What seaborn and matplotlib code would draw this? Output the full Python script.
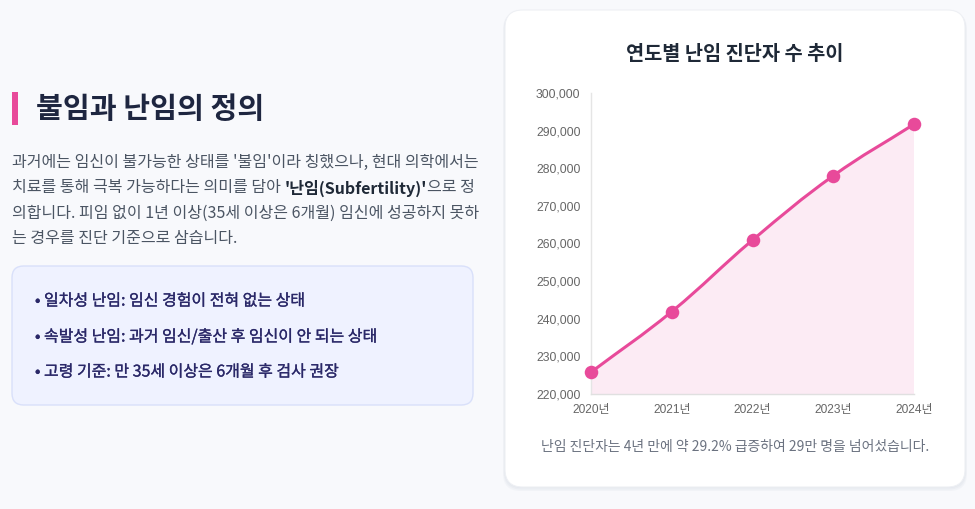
import numpy as np
import pandas as pd
import seaborn as sns
import matplotlib.pyplot as plt
import matplotlib.patheffects as pe
from matplotlib.patches import FancyBboxPatch, PathPatch, Rectangle
from matplotlib.path import Path

years = ['2020년', '2021년', '2022년', '2023년', '2024년']
patients = [225800, 241900, 260900, 278000, 291700]
y_ticks = [220000, 230000, 240000, 250000, 260000, 270000, 280000, 290000, 300000]

chart_title = '연도별 난임 진단자 수 추이'
chart_note = '난임 진단자는 4년 만에 약 29.2% 급증하여 29만 명을 넘어섰습니다.'
heading = '불임과 난임의 정의'
para_lines = [
    "과거에는 임신이 불가능한 상태를 '불임'이라 칭했으나, 현대 의학에서는",
    None,  # line with bold part, built below
    "의합니다. 피임 없이 1년 이상(35세 이상은 6개월) 임신에 성공하지 못하",
    "는 경우를 진단 기준으로 삼습니다.",
]
para_line2 = ["치료를 통해 극복 가능하다는 의미를 담아 ", "'난임(Subfertility)'", "으로 정"]
bullets = [
    '일차성 난임: 임신 경험이 전혀 없는 상태',
    '속발성 난임: 과거 임신/출산 후 임신이 안 되는 상태',
    '고령 기준: 만 35세 이상은 6개월 후 검사 권장',
]

PINK = '#e84a9a'
W, H = 975, 509

sns.set_theme(style='white')
plt.rcParams['font.family'] = ['Noto Sans CJK KR', 'DejaVu Sans']

fig = plt.figure(figsize=(W / 100, H / 100), dpi=100)
fig.patch.set_facecolor('#f8f9fc')


def fx(x):
    return x / W


def fy(y):
    return 1 - y / H


# right card with soft shadow
for off, a in [(4, 0.25), (2.5, 0.35), (1, 0.5)]:
    shadow = FancyBboxPatch((fx(505 - off / 2), fy(487 + off)), fx(460 + off), (477 + off / 2) / H,
                            boxstyle='round,pad=0,rounding_size=0.018',
                            transform=fig.transFigure, facecolor='#dfe2ea', edgecolor='none',
                            alpha=a, mutation_aspect=W / H, zorder=-3)
    fig.patches.append(shadow)
card = FancyBboxPatch((fx(505), fy(487)), fx(460), 477 / H,
                      boxstyle='round,pad=0,rounding_size=0.018',
                      transform=fig.transFigure, facecolor='white', edgecolor='#eef0f4',
                      linewidth=0.8, mutation_aspect=W / H, zorder=-2)
fig.patches.append(card)

# left info box
box = FancyBboxPatch((fx(12), fy(405)), fx(461), 139 / H,
                     boxstyle='round,pad=0,rounding_size=0.012',
                     transform=fig.transFigure, facecolor='#eff2ff', edgecolor='#d9e0fa',
                     linewidth=1, mutation_aspect=W / H, zorder=-2)
fig.patches.append(box)

# heading with pink bar
fig.patches.append(Rectangle((fx(12), fy(125)), fx(6), 33 / H, transform=fig.transFigure,
                             facecolor=PINK, edgecolor='none'))
fig.text(fx(36), fy(109), heading, fontsize=21, fontweight='bold', color='#1e2640',
         va='center', ha='left')

# paragraph
para_color = '#4b5563'
para_size = 11.55
line_y = [162, 188, 213, 238]
for line, y in zip(para_lines, line_y):
    if line is not None:
        fig.text(fx(12), fy(y), line, fontsize=para_size, color=para_color, va='center')

renderer = fig.canvas.get_renderer()
x_cur = fx(12)
for i, part in enumerate(para_line2):
    t = fig.text(x_cur, fy(line_y[1]), part, fontsize=para_size,
                 color='#1f2937' if i == 1 else para_color,
                 fontweight='bold' if i == 1 else 'normal', va='center')
    bb = t.get_window_extent(renderer=renderer)
    x_cur += bb.width / fig.bbox.width

# bullets (medium weight look)
bullet_color = '#2a2868'
for text, y in zip(bullets, [301, 337, 372]):
    fig.text(fx(35), fy(y), '• ' + text, fontsize=11.5, color=bullet_color,
             va='center',
             path_effects=[pe.Stroke(linewidth=0.2, foreground=bullet_color), pe.Normal()])

# chart
ax = fig.add_axes([fx(591), fy(394), fx(914 - 591), (394 - 93) / H])
ax.set_facecolor('none')
df = pd.DataFrame({'year': years, 'patients': patients})
df['pos'] = np.arange(len(years))

ax.set_xlim(0, len(years) - 1)
ax.set_ylim(y_ticks[0], y_ticks[-1])

# smooth curve (tension 0.4 style) through the data points
xs = df['pos'].to_numpy(dtype=float)
ys = df['patients'].to_numpy(dtype=float)
sx = (914 - 591) / (xs[-1] - xs[0])
sy = (394 - 93) / (y_ticks[-1] - y_ticks[0])
px, py = xs * sx, ys * sy
tension = 0.4
cp_in, cp_out = [], []
for i in range(len(xs)):
    p0 = (px[max(i - 1, 0)], py[max(i - 1, 0)])
    p2 = (px[min(i + 1, len(xs) - 1)], py[min(i + 1, len(xs) - 1)])
    d01 = np.hypot(px[i] - p0[0], py[i] - p0[1])
    d12 = np.hypot(p2[0] - px[i], p2[1] - py[i])
    tot = d01 + d12 if d01 + d12 > 0 else 1
    fa, fb = tension * d01 / tot, tension * d12 / tot
    cp_in.append((px[i] - fa * (p2[0] - p0[0]), py[i] - fa * (p2[1] - p0[1])))
    cp_out.append((px[i] + fb * (p2[0] - p0[0]), py[i] + fb * (p2[1] - p0[1])))

verts = [(xs[0], ys[0])]
codes = [Path.MOVETO]
for i in range(len(xs) - 1):
    verts += [(cp_out[i][0] / sx, cp_out[i][1] / sy),
              (cp_in[i + 1][0] / sx, cp_in[i + 1][1] / sy),
              (xs[i + 1], ys[i + 1])]
    codes += [Path.CURVE4] * 3

fill_verts = verts + [(xs[-1], y_ticks[0]), (xs[0], y_ticks[0]), (xs[0], ys[0])]
fill_codes = codes + [Path.LINETO, Path.LINETO, Path.CLOSEPOLY]
ax.add_patch(PathPatch(Path(fill_verts, fill_codes), facecolor='#fcebf4',
                       edgecolor='none', zorder=1))
ax.add_patch(PathPatch(Path(verts, codes), facecolor='none', edgecolor=PINK,
                       linewidth=2.2, zorder=2, capstyle='round'))

sns.scatterplot(data=df, x='pos', y='patients', ax=ax, color=PINK, s=95,
                edgecolor=PINK, linewidth=0, zorder=3, clip_on=False, legend=False)

ax.set_xticks(df['pos'])
ax.set_xticklabels(years)
ax.set_yticks(y_ticks)
ax.set_yticklabels([f'{v:,}' for v in y_ticks])
ax.set_xlabel('')
ax.set_ylabel('')
tick_font = ['Liberation Sans', 'Noto Sans CJK KR']
for lbl in ax.get_yticklabels():
    lbl.set_family(tick_font)
    lbl.set_fontsize(8.8)
    lbl.set_color('#666666')
for lbl in ax.get_xticklabels():
    lbl.set_family(tick_font)
    lbl.set_fontsize(8.6)
    lbl.set_color('#666666')
ax.tick_params(axis='both', length=0)
ax.tick_params(axis='y', pad=7.5)
ax.tick_params(axis='x', pad=7.5)
for side in ['top', 'right']:
    ax.spines[side].set_visible(False)
ax.spines['left'].set_color('#e5e5e5')
ax.spines['bottom'].set_color('#e0e0e0')
ax.spines['left'].set_linewidth(1)
ax.spines['bottom'].set_linewidth(1)
ax.grid(False)

fig.text(fx(735), fy(55), chart_title, fontsize=14.2, fontweight='bold', color='#1f2937',
         ha='center', va='center')
fig.text(fx(735), fy(447), chart_note, fontsize=10, color='#6b7280',
         ha='center', va='center')

fig.savefig('out.png', dpi=100, facecolor=fig.get_facecolor())
